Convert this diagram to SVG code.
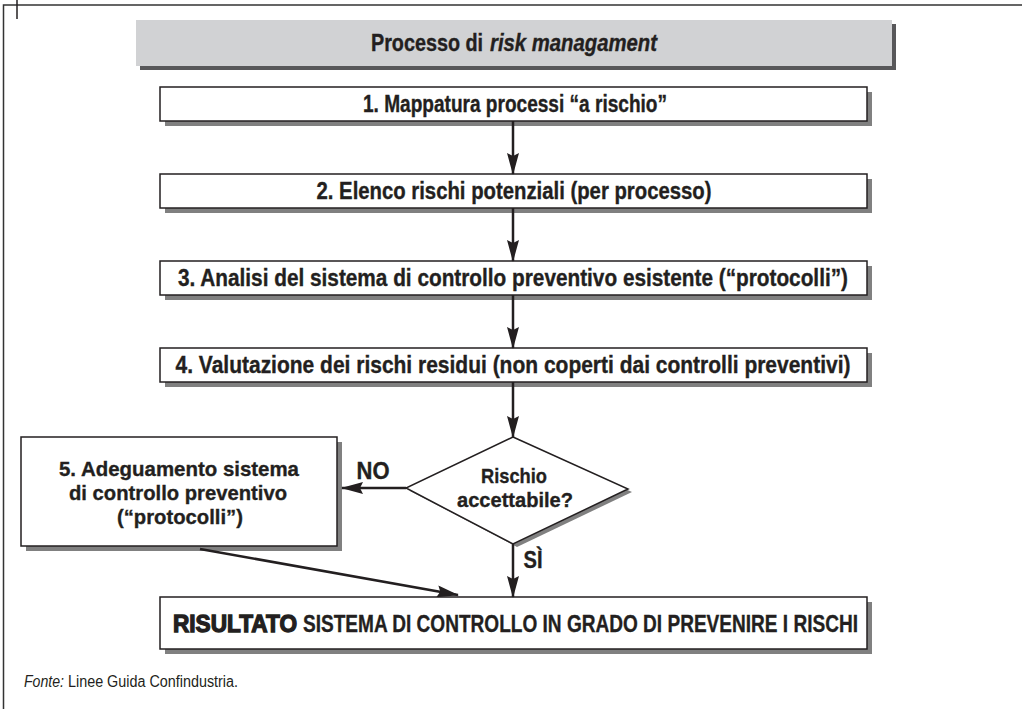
<svg xmlns="http://www.w3.org/2000/svg" width="1022" height="709" viewBox="0 0 1022 709">
  <style>
    .box{fill:#ffffff;stroke:#231f20;stroke-width:1.5}
    .shadow{fill:#808080}
    .t{font-family:"Liberation Sans",Arial,sans-serif;font-weight:bold;font-size:23px;fill:#231f20;stroke:#231f20;stroke-width:0.35;text-anchor:middle}
    .s{font-size:21px}
    .l{text-anchor:start}
    .src{font-family:"Liberation Sans",Arial,sans-serif;font-size:16px;fill:#231f20}
    .conn{stroke:#231f20;stroke-width:2.5;fill:none}
    .frame{stroke:#333333;stroke-width:1.5;fill:none}
  </style>
  <defs>
    <marker id="arrow" viewBox="0 0 22 12" refX="21" refY="6" markerWidth="22" markerHeight="12" markerUnits="userSpaceOnUse" orient="auto">
      <path d="M0,0 L22,6 L0,12 L3,6 z" fill="#231f20"/>
    </marker>
  </defs>
  <rect width="1022" height="709" fill="#ffffff"/>

  <g id="frame">
    <path class="frame" d="M1022,5 H3.5 V709"/>
    <line x1="17" y1="0" x2="17" y2="19" stroke="#231f20" stroke-width="1.5"/>
  </g>

  <g id="title">
    <rect x="140" y="24" width="756" height="46" fill="#58585a"/>
    <rect x="136" y="20" width="756" height="46" fill="#d1d2d4"/>
    <text class="t l" x="371" y="51" textLength="112" lengthAdjust="spacingAndGlyphs">Processo di</text>
    <text class="t l" x="490" y="51" textLength="167" lengthAdjust="spacingAndGlyphs" font-style="italic">risk managament</text>
  </g>

  <g id="step1">
    <rect class="shadow" x="165" y="92" width="707" height="34"/>
    <rect class="box" x="160" y="87" width="707" height="34"/>
    <text class="t" x="515" y="112" textLength="304" lengthAdjust="spacingAndGlyphs">1. Mappatura processi “a rischio”</text>
  </g>

  <g id="step2">
    <rect class="shadow" x="165" y="179" width="707" height="34"/>
    <rect class="box" x="160" y="174" width="707" height="34"/>
    <text class="t" x="514" y="199" textLength="395" lengthAdjust="spacingAndGlyphs">2. Elenco rischi potenziali (per processo)</text>
  </g>

  <g id="step3">
    <rect class="shadow" x="165" y="266" width="707" height="34"/>
    <rect class="box" x="160" y="261" width="707" height="34"/>
    <text class="t" x="513" y="286" textLength="670" lengthAdjust="spacingAndGlyphs">3. Analisi del sistema di controllo preventivo esistente (“protocolli”)</text>
  </g>

  <g id="step4">
    <rect class="shadow" x="165" y="353" width="707" height="34"/>
    <rect class="box" x="160" y="348" width="707" height="34"/>
    <text class="t" x="513" y="373" textLength="675" lengthAdjust="spacingAndGlyphs">4. Valutazione dei rischi residui (non coperti dai controlli preventivi)</text>
  </g>

  <g id="decision">
    <polygon points="517,440 632,492 517,547 410,491" fill="#808080"/>
    <polygon points="513,437 628,489 513,544 406,488" fill="#ffffff" stroke="#231f20" stroke-width="1.5"/>
    <text class="t s" x="514" y="483" textLength="66" lengthAdjust="spacingAndGlyphs">Rischio</text>
    <text class="t s" x="515" y="507" textLength="116" lengthAdjust="spacingAndGlyphs">accettabile?</text>
  </g>

  <g id="step5">
    <rect class="shadow" x="26" y="442" width="316" height="109"/>
    <rect class="box" x="21" y="437" width="316" height="109"/>
    <text class="t s" x="179" y="476" textLength="240" lengthAdjust="spacingAndGlyphs">5. Adeguamento sistema</text>
    <text class="t s" x="178" y="500" textLength="218" lengthAdjust="spacingAndGlyphs">di controllo preventivo</text>
    <text class="t s" x="180" y="524" textLength="126" lengthAdjust="spacingAndGlyphs">(“protocolli”)</text>
  </g>

  <g id="result">
    <rect class="shadow" x="165" y="602" width="707" height="52"/>
    <rect class="box" x="160" y="597" width="707" height="52"/>
    <text x="173" y="632" font-family="'Liberation Sans',Arial,sans-serif" font-weight="bold" font-size="24" fill="#231f20" stroke="#231f20" stroke-width="1.3" textLength="124" lengthAdjust="spacingAndGlyphs">RISULTATO</text>
    <text x="303" y="632" font-family="'Liberation Sans',Arial,sans-serif" font-weight="bold" font-size="24" fill="#231f20" stroke="#231f20" stroke-width="0.35" textLength="555" lengthAdjust="spacingAndGlyphs">SISTEMA DI CONTROLLO IN GRADO DI PREVENIRE I RISCHI</text>
  </g>

  <g id="connectors">
    <line class="conn" x1="513" y1="121" x2="513" y2="174" marker-end="url(#arrow)"/>
    <line class="conn" x1="513" y1="208" x2="513" y2="261" marker-end="url(#arrow)"/>
    <line class="conn" x1="513" y1="295" x2="513" y2="348" marker-end="url(#arrow)"/>
    <line class="conn" x1="513" y1="382" x2="513" y2="437" marker-end="url(#arrow)"/>
    <line class="conn" x1="513" y1="544" x2="513" y2="597" marker-end="url(#arrow)"/>
    <line class="conn" x1="406" y1="488" x2="342" y2="488" marker-end="url(#arrow)"/>
    <line class="conn" x1="200" y1="549" x2="458" y2="595" marker-end="url(#arrow)"/>
    <text class="t" x="373" y="479" textLength="33" lengthAdjust="spacingAndGlyphs">NO</text>
    <text class="t" x="533" y="568" textLength="19" lengthAdjust="spacingAndGlyphs">SÌ</text>
  </g>

  <g id="source">
    <text class="src" x="24" y="687" font-style="italic" textLength="40" lengthAdjust="spacingAndGlyphs">Fonte:</text>
    <text class="src" x="68" y="687" textLength="170" lengthAdjust="spacingAndGlyphs">Linee Guida Confindustria.</text>
  </g>
</svg>
